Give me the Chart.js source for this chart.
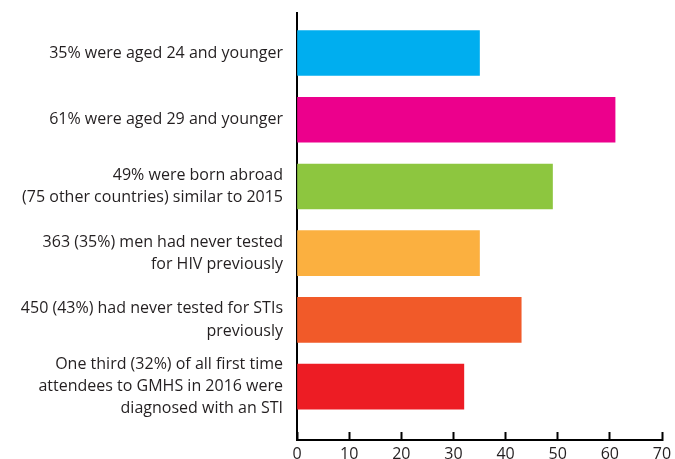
<!DOCTYPE html>
<html>
<head>
<meta charset="utf-8">
<script src="https://cdn.jsdelivr.net/npm/chart.js@4"></script>
<style>
  html, body { margin: 0; padding: 0; background: #fff; }
  #wrap { width: 675px; height: 459px; }
</style>
</head>
<body>
<div id="wrap"><canvas id="chart"></canvas></div>
<script>
// data
const categories = [
    ["35% were aged 24 and younger"],
    ["61% were aged 29 and younger"],
    ["49% were born abroad", "(75 other countries) similar to 2015"],
    ["363 (35%) men had never tested", "for HIV previously"],
    ["450 (43%) had never tested for STIs", "previously"],
    ["One third (32%) of all first time", "attendees to GMHS in 2016 were", "diagnosed with an STI"]
];
const values = [35, 61, 49, 35, 43, 32];
const barColors = ["#00aeef", "#ec008c", "#8dc63f", "#fbb040", "#f15a29", "#ed1c24"];
const xTicks = [0, 10, 20, 30, 40, 50, 60, 70];

const textColor = "#231f20";
const fontFamily = "'Open Sans'";

document.addEventListener("DOMContentLoaded", () => {
    const ctx = document.getElementById("chart").getContext("2d");

    new Chart(ctx, {
        type: "bar",
        data: {
            datasets: [{
                data: values.map((v, i) => ({ x: v, y: i })),
                backgroundColor: barColors,
                borderWidth: 0,
                barThickness: 45
            }]
        },
        options: {
            indexAxis: "y",
            responsive: true,
            maintainAspectRatio: false,
            animation: false,
            layout: { padding: { top: 13, right: 13, left: 0, bottom: 0 } },
            plugins: {
                legend: { display: false },
                tooltip: { enabled: false }
            },
            scales: {
                y: {
                    type: "linear",
                    reverse: true,
                    offset: false,
                    min: -0.6,
                    max: 5.8,
                    grid: { drawOnChartArea: false, drawTicks: false, offset: false },
                    border: { color: "#000", width: 2 },
                    ticks: {
                        stepSize: 1,
                        includeBounds: false,
                        autoSkip: false,
                        padding: 14,
                        color: textColor,
                        font: { family: fontFamily, size: 16, lineHeight: 1.38 },
                        callback: v => Number.isInteger(v) ? categories[v] : ""
                    },
                    afterFit: s => {
                        s.width = 297;
                        s.paddingTop = 0;
                        s.paddingBottom = 0;
                    }
                },
                x: {
                    min: xTicks[0],
                    max: xTicks[xTicks.length - 1],
                    grid: {
                        drawOnChartArea: false,
                        tickLength: -8,
                        tickWidth: 2,
                        tickColor: "#000"
                    },
                    border: { color: "#000", width: 2 },
                    ticks: {
                        stepSize: 10,
                        padding: 13,
                        color: textColor,
                        font: { family: fontFamily, size: 16 }
                    },
                    afterFit: s => {
                        s.height = 19;
                        s.paddingLeft = 0;
                        s.paddingRight = 0;
                    }
                }
            }
        }
    });
});
</script>
</body>
</html>
